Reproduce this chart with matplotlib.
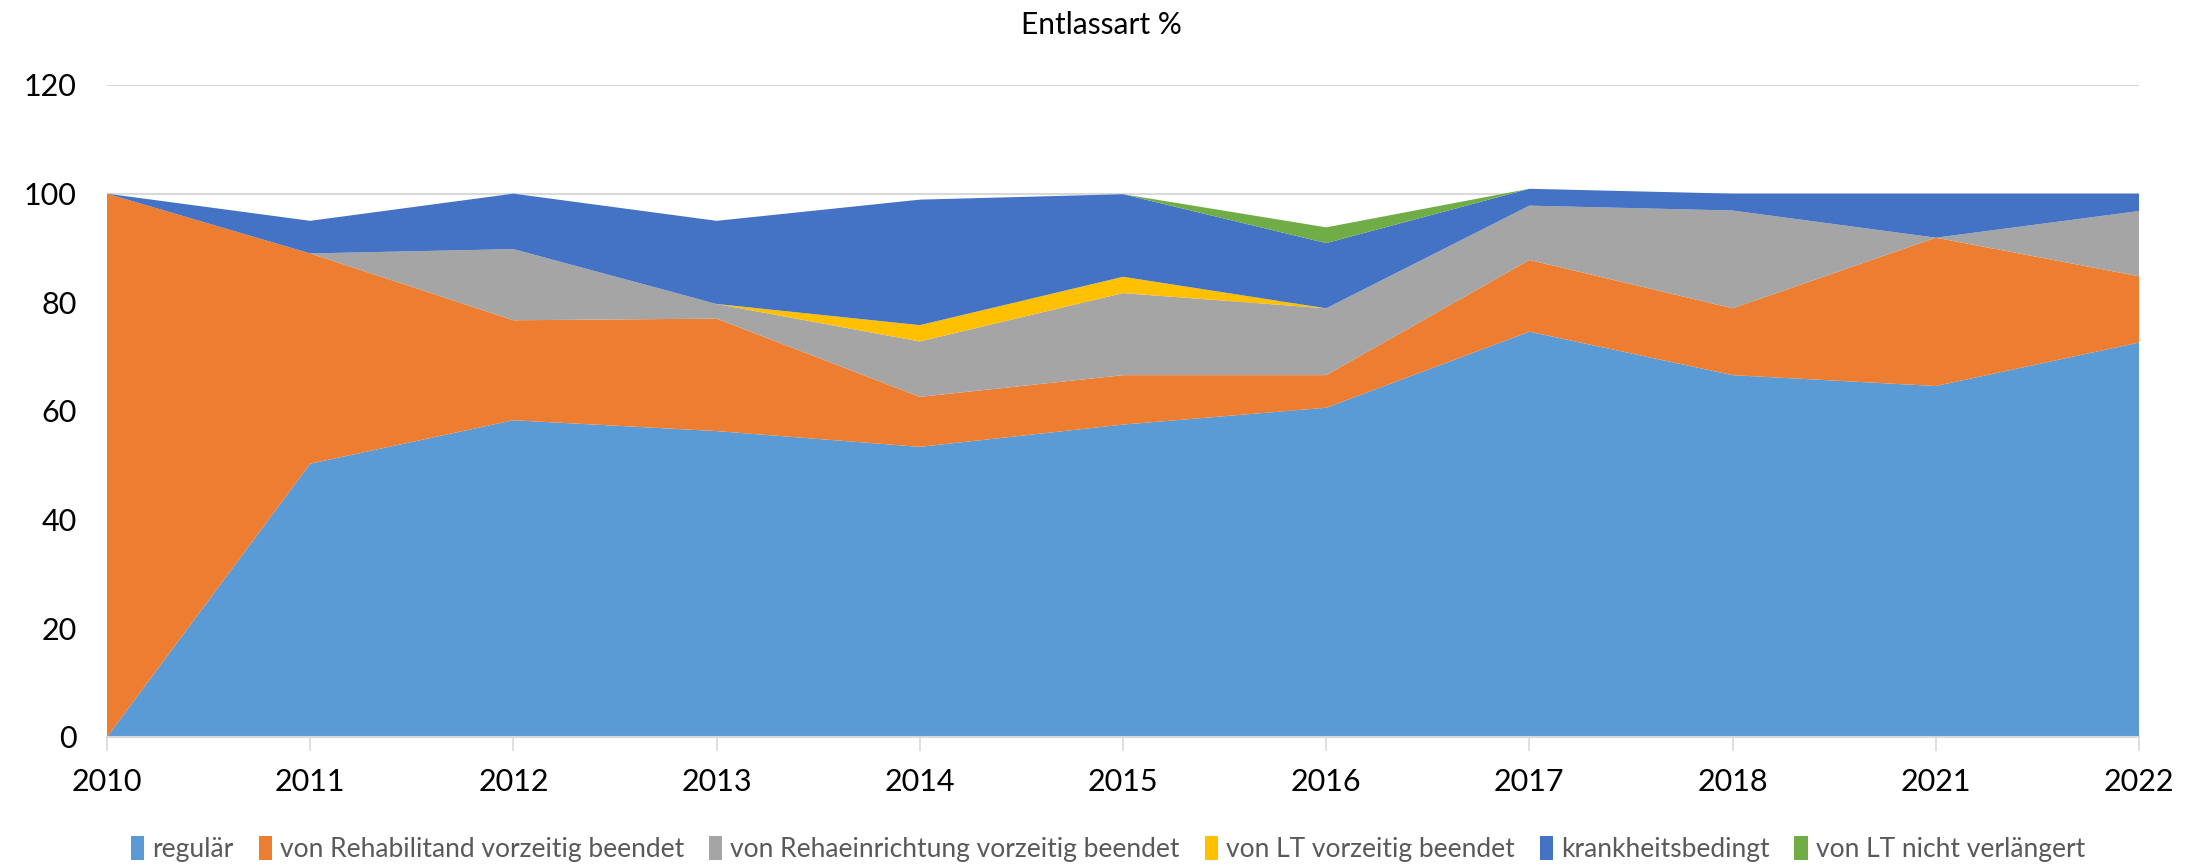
import matplotlib
matplotlib.use("Agg")
import matplotlib.pyplot as plt
import numpy as np

years = ["2010", "2011", "2012", "2013", "2014", "2015", "2016", "2017", "2018", "2021", "2022"]
series_names = ["regulär", "von Rehabilitand vorzeitig beendet", "von Rehaeinrichtung vorzeitig beendet",
                "von LT vorzeitig beendet", "krankheitsbedingt", "von LT nicht verlängert"]
regulaer = [0, 50.3, 58.3, 56.3, 53.4, 57.5, 60.6, 74.6, 66.6, 64.6, 72.6]
rehabilitand = [100, 38.7, 18.4, 20.7, 9.2, 9.1, 6.0, 13.2, 12.3, 27.3, 12.2]
rehaeinrichtung = [0, 0, 13.1, 2.7, 10.2, 15.1, 12.3, 10.0, 18.0, 0, 12.0]
lt_vorzeitig = [0, 0, 0, 0, 3.0, 3.0, 0, 0, 0, 0, 0]
krankheit = [0, 6.0, 10.2, 15.3, 23.1, 15.2, 12.0, 3.1, 3.1, 8.1, 3.2]
lt_nicht = [0, 0, 0, 0, 0, 0, 2.9, 0, 0, 0, 0]
colors = ["#5B9BD5", "#ED7D31", "#A5A5A5", "#FFC000", "#4472C4", "#70AD47"]

plt.rcParams['font.family'] = ['Lato', 'DejaVu Sans']

fig = plt.figure(figsize=(22.03, 8.67), dpi=100)
ax = fig.add_axes([107/2203, 1-737/867, (2139-107)/2203, (737-85)/867])

x = np.arange(len(years))
ax.stackplot(x, regulaer, rehabilitand, rehaeinrichtung, lt_vorzeitig, krankheit, lt_nicht,
             colors=colors, labels=series_names, linewidth=0, zorder=2)

ax.set_xlim(0, len(years) - 1)
ax.set_ylim(0, 120)
ax.set_yticks(range(0, 121, 20))
ax.set_xticks(x)
ax.set_xticklabels(years)
ax.yaxis.grid(True, color="#D9D9D9", linewidth=1.5, zorder=0)
ax.set_axisbelow(True)
for s in ["top", "right", "left"]:
    ax.spines[s].set_visible(False)
ax.spines["bottom"].set_color("#D9D9D9")
ax.spines["bottom"].set_linewidth(1.5)
ax.spines["bottom"].set_zorder(3)
ax.tick_params(axis="y", length=0, labelsize=22, pad=22)
ax.tick_params(axis="x", length=10, width=1.2, color="#D9D9D9", labelsize=22, pad=12)

fig.text(1101/2203, 1-25/867, "Entlassart %", ha="center", va="center", fontsize=21.5)

leg = fig.legend(loc="center", bbox_to_anchor=(1108/2203, 1-849/867), ncol=6, frameon=False,
                 fontsize=19, handlelength=0.5, handleheight=1.0, handletextpad=0.3,
                 columnspacing=0.95)
for t in leg.get_texts():
    t.set_color("#595959")

fig.savefig("out.png", dpi=100)
